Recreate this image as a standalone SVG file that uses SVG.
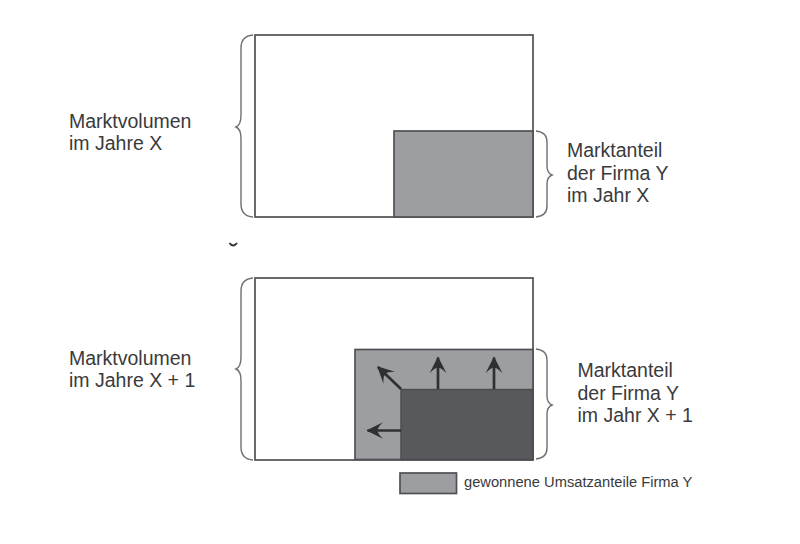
<svg xmlns="http://www.w3.org/2000/svg" width="800" height="544" viewBox="0 0 800 544">
<style>
.frame{fill:#fff;stroke:#4f5053;stroke-width:1.7}
.share{fill:#9d9ea2;stroke:#4f5053;stroke-width:1.7}
.dark{fill:#58595c;stroke:#4a4b4e;stroke-width:1.4}
.brace{fill:none;stroke:#6e6f72;stroke-width:1.4}
.lbl{font-family:"Liberation Sans",Arial,sans-serif;font-size:19.5px;fill:#3a3a3c}
.leg{font-family:"Liberation Sans",Arial,sans-serif;font-size:14.7px;fill:#3a3a3c}
.arr{stroke:#2f3033;stroke-width:2.7;fill:none;marker-end:url(#ah)}
</style>
<defs>
<marker id="ah" viewBox="0 0 16 16" refX="14" refY="8" markerWidth="18" markerHeight="18" markerUnits="userSpaceOnUse" orient="auto">
<path d="M15,8 L0,0.5 Q5,5 5,8 Q5,11 0,15.5 Z" fill="#2f3033"/>
</marker>
</defs>
<rect width="800" height="544" fill="#fff"/>

<g id="top-market">
<rect class="frame" x="255" y="35" width="278" height="182"/>
<path class="brace" d="M253,35 Q241,36 241,48 L241,115 Q241,125 236,127 Q241,129 241,139 L241,204 Q241,216 253,217"/>
<text class="lbl" x="69" y="128">Marktvolumen</text>
<text class="lbl" x="69" y="150">im Jahre X</text>
</g>

<g id="top-share">
<rect class="share" x="394" y="131" width="139" height="86"/>
<path class="brace" d="M536,131 Q547,132 547,142 L547,166 Q547,173 552,175 Q547,177 547,184 L547,206 Q547,216 536,217"/>
<text class="lbl" x="567" y="157">Marktanteil</text>
<text class="lbl" x="567" y="179.5">der Firma Y</text>
<text class="lbl" x="567" y="202">im Jahr X</text>
</g>

<path d="M229.5,243 Q233,248 237,243" fill="none" stroke="#333" stroke-width="2"/>

<g id="bottom-market">
<rect class="frame" x="255" y="278" width="278" height="182"/>
<path class="brace" d="M253,278 Q241,279 241,291 L241,357 Q241,367 236,369 Q241,371 241,381 L241,447 Q241,459 253,460"/>
<text class="lbl" x="69" y="364.5">Marktvolumen</text>
<text class="lbl" x="69" y="387">im Jahre X + 1</text>
</g>

<g id="bottom-share">
<rect class="share" x="355" y="349.5" width="178" height="110"/>
<rect class="dark" x="401" y="389.5" width="132" height="70"/>
<path class="brace" d="M536,349 Q547,350 547,360 L547,396 Q547,403 552,405 Q547,407 547,414 L547,448 Q547,458 536,459"/>
<text class="lbl" x="577.5" y="376.5">Marktanteil</text>
<text class="lbl" x="577.5" y="399.5">der Firma Y</text>
<text class="lbl" x="577.5" y="422">im Jahr X + 1</text>
</g>

<g id="connectors">
<line class="arr" x1="438" y1="389" x2="438" y2="357.5"/>
<line class="arr" x1="494" y1="389" x2="494" y2="357.5"/>
<line class="arr" x1="401" y1="389" x2="378" y2="367"/>
<line class="arr" x1="401" y1="430.5" x2="367.5" y2="430.5"/>
</g>

<g id="legend">
<rect class="share" x="400" y="473" width="56.5" height="20.5"/>
<text class="leg" x="464" y="487">gewonnene Umsatzanteile Firma Y</text>
</g>
</svg>
